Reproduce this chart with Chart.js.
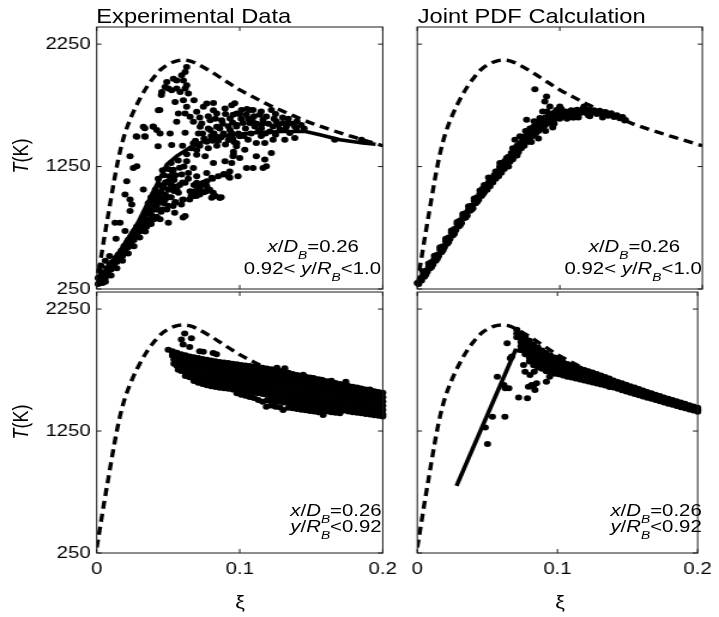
<!DOCTYPE html>
<html><head><meta charset="utf-8">
<script src="https://cdn.jsdelivr.net/npm/chart.js@4.4.1/dist/chart.umd.min.js"></script>
<style>
html,body{margin:0;padding:0;background:#fff;overflow:hidden;width:719px;height:617px;}
#stage{position:absolute;left:0;top:0;width:600px;height:617px;transform:scaleX(1.198333);transform-origin:0 0;font-family:'Liberation Sans',Arial,Helvetica,sans-serif;color:#000;}
#stage canvas{position:absolute;left:0;top:0;}
.t{position:absolute;white-space:nowrap;line-height:1;}
.sub{font-size:0.68em;position:relative;top:7px;font-style:italic;}
.title{font-size:19.8px;top:6.5px;}
.ylab{font-size:18px;transform:translate(-50%,-50%) rotate(-90deg);}
.xlab{font-size:18px;top:592.8px;transform:translateX(-50%);}
.ann{font-size:17px;text-align:right;}
</style></head><body>
<div id="stage">
  <canvas id="cTL" width="600" height="617"></canvas>
  <canvas id="cTR" width="600" height="617"></canvas>
  <canvas id="cBL" width="600" height="617"></canvas>
  <canvas id="cBR" width="600" height="617"></canvas>

  <div class="t title" style="left:80.3px;">Experimental Data</div>
  <div class="t title" style="left:348.6px;">Joint PDF Calculation</div>

  <div class="t ylab" style="left:17.4px;top:156px;"><i>T</i>(K)</div>
  <div class="t ylab" style="left:17.4px;top:422px;"><i>T</i>(K)</div>

  <div class="t xlab" style="left:200.3px;">ξ</div>
  <div class="t xlab" style="left:467.3px;">ξ</div>

  <div class="t ann" style="right:300.5px;top:237.9px;"><i>x</i>/<i>D</i><span class="sub">B</span>=0.26</div>
  <div class="t ann" style="right:282px;top:259.6px;">0.92&lt; <i>y</i>/<i>R</i><span class="sub">B</span>&lt;1.0</div>
  <div class="t ann" style="right:32.5px;top:237.9px;"><i>x</i>/<i>D</i><span class="sub">B</span>=0.26</div>
  <div class="t ann" style="right:14.4px;top:259.6px;">0.92&lt; <i>y</i>/<i>R</i><span class="sub">B</span>&lt;1.0</div>
  <div class="t ann" style="right:281.5px;top:501.5px;"><i>x</i>/<i>D</i><span class="sub">B</span>=0.26</div>
  <div class="t ann" style="right:281.5px;top:518.3px;"><i>y</i>/<i>R</i><span class="sub">B</span>&lt;0.92</div>
  <div class="t ann" style="right:14.4px;top:501.5px;"><i>x</i>/<i>D</i><span class="sub">B</span>=0.26</div>
  <div class="t ann" style="right:14.4px;top:518.3px;"><i>y</i>/<i>R</i><span class="sub">B</span>&lt;0.92</div>
</div>
<script>
// ---------------- data ----------------
const xTickVals = [0, 0.1, 0.2];
const xTickLabels = ['0', '0.1', '0.2'];
const yTickVals = [250, 1250, 2250];
const yTickLabels = ['250', '1250', '2250'];

// equilibrium temperature (dashed curve)
const eqXi = [0, 0.0025, 0.005, 0.0075, 0.01, 0.0125, 0.015, 0.0175, 0.02, 0.025, 0.03, 0.035, 0.04, 0.045, 0.05, 0.055, 0.061, 0.066, 0.07, 0.08, 0.09, 0.1, 0.11, 0.12, 0.135, 0.15, 0.165, 0.18, 0.2];
const eqT  = [295, 470, 650, 820, 990, 1155, 1305, 1430, 1530, 1680, 1800, 1900, 1980, 2045, 2085, 2110, 2120, 2110, 2090, 2025, 1950, 1876, 1815, 1755, 1678, 1605, 1545, 1490, 1420];

// mean (solid) lines
const tlMeanXi = [0, 0.016, 0.029, 0.049, 0.056, 0.064, 0.072, 0.086, 0.107, 0.13, 0.146, 0.156, 0.17, 0.186, 0.195];
const tlMeanT  = [290, 548, 795, 1266, 1335, 1395, 1443, 1496, 1524, 1537, 1537, 1510, 1469, 1442, 1432];
const brMeanXi = [0.028, 0.070, 0.074, 0.08, 0.09, 0.1, 0.12, 0.14, 0.16, 0.18, 0.2];
const brMeanT  = [800, 1912, 1905, 1880, 1830, 1772, 1690, 1620, 1550, 1485, 1420];

// scatter: experimental data, 0.92<y/RB<1.0
const tlPoints = [
[0.001,290],[0.002,320],[0.001,340],[0.003,360],[0.004,300],[0.002,400],[0.003,440],[0.005,380],[0.006,340],[0.006,480],[0.007,420],[0.008,390],[0.009,450],[0.009,520],[0.010,410],[0.011,470],[0.012,440],[0.013,500],[0.014,470],[0.015,530],[0.016,500],[0.017,560],[0.018,520],[0.019,600],[0.020,560],[0.021,630],[0.022,590],[0.023,660],[0.024,620],[0.025,700],[0.026,650],[0.027,730],[0.028,690],[0.029,760],[0.030,720],[0.031,800],[0.032,750],[0.033,830],[0.034,790],[0.035,870],[0.036,820],[0.037,900],[0.038,860],[0.039,940],[0.040,900],[0.041,980],[0.042,930],[0.043,1010],[0.044,960],[0.045,1040],[0.046,990],[0.047,1080],[0.048,1020],[0.050,1060],[0.049,1120],[0.052,1100],[0.051,1170],[0.054,1140],[0.053,1210],
[0.004,340],[0.006,370],[0.008,410],[0.010,440],[0.012,470],[0.014,510],[0.016,540],[0.018,570],[0.020,610],[0.022,650],[0.024,680],[0.026,720],[0.028,760],[0.030,790],[0.032,820],[0.034,860],[0.036,890],[0.038,930],[0.040,960],[0.042,1000],[0.044,1040],[0.046,1080],[0.048,1120],
[0.006,310],[0.010,360],[0.014,420],[0.018,480],[0.022,540],[0.026,600],[0.030,670],[0.034,720],[0.038,780],[0.042,840],[0.046,900],[0.050,1000],[0.054,1050],[0.058,1100],
[0.036,950],[0.04,1030],[0.044,1100],[0.047,1180],[0.05,1230],[0.052,1280],[0.055,1180],[0.058,1240],[0.043,1150],[0.046,1220],[0.038,1000],[0.041,1060],
[0.035,760],[0.040,820],[0.045,880],[0.050,930],[0.055,960],[0.060,980],[0.047,950],[0.052,1000],[0.056,1060],[0.060,1120],[0.064,1150],[0.068,1100],[0.071,1080],[0.075,1040],[0.079,1060],[0.083,1010],[0.087,1000],[0.066,1010],[0.069,1050],[0.073,1100],[0.077,1130],[0.081,1150],[0.085,1170],[0.089,1190],[0.093,1210],
[0.072,1022],[0.0767,1049],[0.0814,1036],[0.086,995],[0.0697,1009],[0.065,982],[0.0604,833],[0.0592,941],[0.0534,927],[0.0545,873],
[0.0536,1225],[0.0629,1293],[0.0676,1239],[0.0699,1347],[0.0758,1334],[0.0816,1280],[0.0897,1293],[0.0944,1280],[0.0956,1347],[0.0886,1185],[0.0921,1171],[0.0594,1185],[0.0641,1198],[0.0699,1171],[0.0769,1198],[0.0804,1158],[0.0618,1117],[0.0699,1117],[0.0746,1117],[0.0536,1090],[0.0501,1131],[0.0571,1036],[0.0653,1049],[0.0723,1063],[0.0769,1090],[0.0804,995],[0.0862,995],[0.0478,982],[0.0548,954],[0.0606,982],[0.0676,1009],[0.042,900],[0.049,900],[0.0443,819],[0.0501,792],[0.0618,846],
[0.0233,1334],[0.028,1253],[0.0256,1239],[0.021,1131],[0.0326,1063],[0.0198,1022],[0.0233,982],[0.0245,941],[0.0233,887],[0.0128,792],[0.0163,792],[0.0198,724],[0.0135,660],[0.0336,1564],[0.0394,1578],[0.0277,1497],[0.0336,1497],[0.0441,1713],[0.0452,1835],[0.0429,1415],
[0.0629,2063],[0.0618,2022],[0.0594,1995],[0.0606,1954],[0.0559,1954],[0.0536,1968],[0.049,1941],[0.0501,1887],[0.0524,1873],[0.0559,1887],[0.0618,1887],[0.0455,1860],[0.0478,1900],[0.0583,1860],[0.0629,1914],[0.0641,1846],[0.0548,1778],[0.0606,1792],[0.068,1792],[0.0629,1738],[0.0431,1710],[0.0571,1683],[0.0618,1683],[0.0653,1656],[0.0699,1697],[0.0746,1738],[0.0769,1765],[0.0816,1770],[0.0816,1710],[0.0839,1683],[0.0897,1724],[0.0944,1751],[0.0979,1683],[0.0559,1616],[0.0676,1616],[0.0734,1602],[0.0793,1629],[0.0874,1629],[0.0932,1643],[0.0326,1575],[0.0396,1575],[0.028,1494],[0.0338,1494],[0.042,1548],[0.0443,1521],[0.0513,1521],[0.0618,1526],[0.0723,1575],[0.0711,1521],[0.0793,1548],[0.0839,1575],[0.0886,1521],[0.0932,1548],[0.0524,1426],[0.0676,1440],[0.0769,1453],[0.0839,1494],[0.0921,1467],[0.0979,1440],[0.0699,1385],[0.0956,1372],
[0.072,1420],[0.075,1480],[0.078,1400],[0.081,1460],[0.084,1420],[0.087,1490],[0.09,1430],[0.093,1500],[0.096,1450],[0.099,1520],[0.066,1400],[0.069,1460],[0.063,1350],[0.06,1420],[0.057,1300],[0.061,1250],
[0.074,1520],[0.078,1560],[0.082,1520],[0.086,1560],[0.088,1600],[0.092,1580],[0.095,1610],[0.098,1590],[0.101,1640],[0.104,1560],[0.106,1640],[0.109,1620],[0.112,1600],[0.113,1540],[0.116,1600],[0.118,1520],[0.12,1600],[0.124,1640],[0.127,1590],[0.13,1650],[0.132,1560],[0.134,1640],[0.137,1600],[0.14,1620],[0.143,1590],[0.145,1560],[0.103,1500],[0.108,1520],[0.115,1500],[0.125,1510],[0.09,1680],[0.1,1680],[0.11,1660],[0.105,1720],[0.115,1700],[0.125,1680],[0.083,1640],[0.078,1660],[0.072,1650],[0.085,1460],[0.095,1480],[0.08,1500],
[0.0965,1768],[0.1012,1713],[0.0953,1673],[0.1047,1673],[0.1093,1713],[0.114,1673],[0.1186,1659],[0.1221,1713],[0.1256,1619],[0.1303,1605],[0.1338,1605],[0.1385,1578],[0.128,1551],[0.121,1537],[0.1151,1564],[0.1105,1578],[0.107,1605],[0.1023,1605],[0.0977,1578],[0.0942,1524],[0.1,1497],[0.1058,1470],[0.1116,1442],[0.1175,1442],[0.1233,1470],[0.1315,1470],[0.1385,1483],[0.0977,1415],[0.1035,1388],[0.0953,1334],[0.1,1320],[0.1116,1334],[0.1175,1307],[0.1221,1361],[0.1047,1239],[0.1093,1239],[0.1163,1239],[0.0988,1171],[0.093,1158],[0.1664,1469],[0.1851,1469],
[0.107,1713],[0.1163,1632],[0.1233,1578],[0.1326,1578],[0.135,1524],[0.1396,1564],[0.1186,1253]
];

// scatter: joint PDF calculation, 0.92<y/RB<1.0
const trPoints = [
[0,300],[0.001,290],[0.002,330],[0.003,320],[0.004,360],[0.005,350],[0.006,400],[0.007,390],[0.008,430],[0.009,420],[0.010,470],[0.011,450],[0.012,500],[0.013,480],[0.014,530],[0.015,520],[0.016,570],[0.017,550],[0.018,600],[0.019,590],[0.020,640],[0.021,620],[0.022,670],[0.023,660],[0.024,710],[0.025,690],[0.026,740],[0.027,730],[0.028,780],[0.029,760],[0.030,810],[0.031,790],[0.032,840],[0.033,830],[0.034,870],[0.035,850],[0.036,900],[0.037,890],[0.038,930],[0.039,910],[0.040,970],[0.041,950],[0.042,1000],[0.043,980],[0.044,1030],[0.045,1010],
[0.004,394],[0.008,458],[0.012,522],[0.016,592],[0.020,660],[0.024,728],[0.028,798],[0.032,862],[0.036,926],[0.040,990],[0.044,1054],
[0.006,366],[0.010,430],[0.014,498],[0.018,566],[0.022,634],[0.026,702],[0.030,770],[0.034,834],[0.038,898],[0.042,962],[0.046,1024],
[0.046,1070],[0.047,1040],[0.048,1090],[0.049,1060],[0.050,1120],[0.051,1090],[0.052,1150],[0.053,1120],[0.054,1180],[0.055,1150],[0.056,1210],[0.057,1170],[0.058,1240],[0.059,1200],[0.060,1270],[0.061,1230],[0.062,1300],[0.063,1260],[0.064,1330],[0.065,1290],[0.066,1360],[0.067,1310],[0.068,1390],[0.069,1340],[0.070,1420],[0.071,1370],[0.072,1440],[0.073,1400],[0.074,1470],[0.075,1420],
[0.047,1100],[0.050,1090],[0.053,1160],[0.056,1180],[0.059,1240],[0.062,1270],[0.065,1330],[0.068,1360],[0.071,1410],[0.074,1440],[0.077,1480],[0.080,1520],[0.083,1560],[0.086,1590],[0.089,1610],[0.092,1640],[0.095,1650],[0.098,1670],[0.082,1620],[0.084,1560],[0.088,1600],[0.091,1700],[0.094,1640],[0.096,1600],[0.1,1640],[0.079,1560],[0.076,1540],
[0.05,1160],[0.055,1210],[0.058,1280],[0.061,1290],[0.064,1250],[0.067,1400],[0.070,1340],[0.072,1497],[0.0685,1469],[0.0697,1388],[0.0627,1320],[0.058,1253],
[0.076,1500],[0.077,1450],[0.078,1530],[0.079,1480],[0.080,1560],[0.081,1500],[0.082,1580],[0.083,1520],[0.084,1600],[0.085,1540],[0.086,1620],[0.087,1560],[0.088,1640],[0.089,1580],[0.090,1650],[0.091,1600],[0.092,1670],[0.093,1610],[0.094,1680],[0.095,1620],[0.096,1690],[0.097,1640],[0.098,1700],[0.099,1650],[0.100,1690],[0.080,1450],[0.085,1480],[0.09,1540],[0.095,1570],[0.0767,1632],[0.086,1646],[0.0825,1881],[0.0907,1822],[0.0895,1781],[0.0977,1713],[0.1,1740],[0.093,1740],[0.088,1700],
[0.102,1660],[0.104,1700],[0.106,1670],[0.108,1710],[0.110,1680],[0.112,1715],[0.114,1685],[0.116,1720],[0.118,1690],[0.120,1715],[0.122,1685],[0.124,1710],[0.126,1680],[0.128,1705],[0.130,1675],[0.132,1695],[0.134,1665],[0.136,1685],[0.138,1655],[0.140,1670],[0.142,1645],[0.144,1655],[0.146,1630],[0.1455,1627],[0.101,1720],[0.105,1640],[0.109,1650],[0.113,1650],[0.117,1740],[0.121,1660],
[0.103,1690],[0.107,1690],[0.111,1700],[0.115,1700],[0.119,1705],[0.123,1700],[0.127,1695],[0.131,1690],[0.135,1675],[0.139,1665],[0.143,1650],[0.1,1660],[0.11,1650],[0.12,1670],[0.13,1650]
];

// scatter: experimental data, y/RB<0.92
const blPoints = [
[0.050,1916],[0.053,1889],[0.053,1905],[0.053,1868],[0.054,1836],[0.054,1802],
[0.056,1892],[0.056,1855],[0.057,1818],[0.056,1786],[0.057,1752],
[0.059,1880],[0.059,1846],[0.059,1808],[0.060,1776],[0.059,1742],[0.0592,1757],
[0.062,1872],[0.062,1836],[0.062,1800],[0.063,1764],[0.062,1730],[0.062,1702],
[0.065,1862],[0.065,1826],[0.065,1793],[0.066,1758],[0.065,1722],[0.065,1690],
[0.068,1856],[0.068,1820],[0.068,1784],[0.069,1751],[0.068,1716],[0.068,1681],[0.068,1660],
[0.071,1848],[0.071,1812],[0.071,1778],[0.072,1742],[0.071,1708],[0.071,1673],[0.071,1646],
[0.074,1840],[0.074,1806],[0.074,1770],[0.075,1735],[0.074,1700],[0.074,1666],[0.074,1636],
[0.077,1834],[0.077,1798],[0.077,1762],[0.078,1729],[0.077,1693],[0.077,1658],[0.077,1625],
[0.080,1828],[0.080,1793],[0.080,1759],[0.081,1723],[0.080,1688],[0.080,1652],[0.080,1618],
[0.083,1822],[0.083,1787],[0.083,1752],[0.084,1716],[0.083,1682],[0.083,1647],[0.083,1612],
[0.086,1817],[0.086,1782],[0.086,1747],[0.087,1712],[0.086,1677],[0.086,1642],[0.086,1605],
[0.089,1812],[0.089,1777],[0.089,1742],[0.090,1707],[0.089,1672],[0.089,1637],[0.089,1600],
[0.092,1807],[0.092,1772],[0.092,1737],[0.093,1702],[0.092,1667],[0.092,1632],[0.092,1597],
[0.095,1802],[0.095,1767],[0.095,1732],[0.096,1697],[0.095,1662],[0.095,1627],[0.095,1590],
[0.098,1797],[0.098,1762],[0.098,1727],[0.099,1692],[0.098,1657],[0.098,1622],[0.098,1585],[0.098,1560],
[0.101,1792],[0.101,1757],[0.101,1722],[0.102,1687],[0.101,1652],[0.101,1617],[0.101,1580],[0.101,1548],
[0.104,1788],[0.104,1753],[0.104,1718],[0.105,1683],[0.104,1648],[0.104,1613],[0.104,1576],[0.104,1540],
[0.107,1784],[0.107,1749],[0.107,1714],[0.108,1679],[0.107,1644],[0.107,1609],[0.107,1572],[0.107,1530],
[0.110,1779],[0.110,1744],[0.110,1709],[0.111,1674],[0.110,1639],[0.110,1604],[0.110,1567],[0.110,1520],
[0.113,1774],[0.113,1739],[0.113,1704],[0.114,1669],[0.113,1634],[0.113,1599],[0.113,1560],[0.113,1505],
[0.116,1768],[0.116,1733],[0.116,1698],[0.117,1663],[0.116,1628],[0.116,1593],[0.116,1553],[0.116,1490],
[0.119,1762],[0.119,1727],[0.119,1692],[0.120,1657],[0.119,1622],[0.119,1587],[0.119,1545],[0.1186,1450],[0.119,1500],
[0.122,1756],[0.122,1721],[0.122,1686],[0.123,1651],[0.122,1616],[0.122,1581],[0.122,1540],[0.122,1500],[0.122,1460],
[0.125,1750],[0.125,1715],[0.125,1680],[0.126,1645],[0.125,1610],[0.125,1575],[0.125,1535],[0.125,1495],[0.125,1450],
[0.128,1743],[0.128,1708],[0.128,1673],[0.129,1638],[0.128,1603],[0.128,1568],[0.128,1530],[0.128,1490],[0.128,1445],
[0.131,1735],[0.131,1700],[0.131,1665],[0.132,1630],[0.131,1595],[0.131,1560],[0.131,1525],[0.131,1485],[0.1303,1423],
[0.134,1727],[0.134,1692],[0.134,1657],[0.135,1622],[0.134,1587],[0.134,1552],[0.134,1517],[0.134,1480],[0.134,1440],
[0.137,1718],[0.137,1683],[0.137,1648],[0.138,1613],[0.137,1578],[0.137,1543],[0.137,1508],[0.137,1472],[0.137,1437],
[0.140,1710],[0.140,1675],[0.140,1640],[0.141,1605],[0.140,1570],[0.140,1535],[0.140,1500],[0.140,1465],[0.140,1430],
[0.143,1702],[0.143,1667],[0.143,1632],[0.144,1597],[0.143,1562],[0.143,1527],[0.143,1492],[0.143,1457],[0.143,1425],
[0.146,1695],[0.146,1660],[0.146,1625],[0.147,1590],[0.146,1555],[0.146,1520],[0.146,1485],[0.146,1450],[0.146,1420],
[0.149,1688],[0.149,1653],[0.149,1618],[0.150,1583],[0.149,1548],[0.149,1513],[0.149,1478],[0.149,1443],[0.149,1415],
[0.152,1681],[0.152,1646],[0.152,1611],[0.153,1576],[0.152,1541],[0.152,1506],[0.152,1471],[0.152,1436],[0.152,1410],
[0.155,1674],[0.155,1639],[0.155,1604],[0.156,1569],[0.155,1534],[0.155,1499],[0.155,1464],[0.155,1429],[0.155,1405],
[0.158,1666],[0.158,1631],[0.158,1596],[0.159,1561],[0.158,1526],[0.158,1491],[0.158,1456],[0.158,1421],[0.1583,1382],
[0.161,1658],[0.161,1623],[0.161,1588],[0.162,1553],[0.161,1518],[0.161,1483],[0.161,1448],[0.161,1413],
[0.164,1650],[0.164,1615],[0.164,1580],[0.165,1545],[0.164,1510],[0.164,1475],[0.164,1440],[0.164,1405],
[0.167,1643],[0.167,1608],[0.167,1573],[0.168,1538],[0.167,1503],[0.167,1468],[0.167,1433],[0.167,1400],
[0.170,1636],[0.170,1601],[0.170,1566],[0.171,1531],[0.170,1496],[0.170,1461],[0.170,1426],[0.170,1396],
[0.173,1628],[0.173,1593],[0.173,1558],[0.174,1523],[0.173,1488],[0.173,1453],[0.173,1418],
[0.176,1620],[0.176,1585],[0.176,1550],[0.177,1515],[0.176,1480],[0.176,1445],[0.176,1410],
[0.179,1613],[0.179,1578],[0.179,1543],[0.180,1508],[0.179,1473],[0.179,1438],[0.179,1405],
[0.182,1606],[0.182,1571],[0.182,1536],[0.183,1501],[0.182,1466],[0.182,1431],[0.182,1400],
[0.185,1598],[0.185,1563],[0.185,1528],[0.186,1493],[0.185,1458],[0.185,1423],[0.185,1395],
[0.188,1591],[0.188,1556],[0.188,1521],[0.189,1486],[0.188,1451],[0.188,1416],[0.188,1390],
[0.191,1584],[0.191,1549],[0.191,1514],[0.192,1479],[0.191,1444],[0.191,1409],[0.191,1385],
[0.194,1577],[0.194,1542],[0.194,1507],[0.195,1472],[0.194,1437],[0.194,1402],[0.194,1380],
[0.197,1570],[0.197,1535],[0.197,1500],[0.198,1465],[0.197,1430],[0.197,1395],[0.197,1375],
[0.200,1563],[0.200,1528],[0.200,1493],[0.200,1458],[0.200,1423],[0.200,1388],[0.200,1370],
[0.0615,2050],[0.0592,2000],[0.0662,2010],[0.0604,1960],[0.0650,1940],[0.0720,1905],[0.0745,1900],[0.0814,1889],[0.0837,1880],[0.126,1768],[0.1315,1765],
[0.1443,1712],[0.1513,1684],[0.1571,1671],[0.1641,1663],[0.1742,1655],[0.1828,1600],[0.191,1590]
];

// scatter: joint PDF calculation, y/RB<0.92
const brPoints = [
[0.071,2080],[0.071,2050],[0.071,2020],
[0.074,2050],[0.074,2015],[0.074,1980],[0.074,1945],[0.074,1915],
[0.077,2020],[0.077,1985],[0.077,1950],[0.077,1915],[0.077,1880],
[0.080,1990],[0.080,1955],[0.080,1920],[0.080,1885],[0.080,1850],[0.080,1820],
[0.083,1960],[0.083,1925],[0.083,1890],[0.083,1855],[0.083,1820],[0.083,1790],
[0.086,1935],[0.086,1900],[0.086,1865],[0.086,1830],[0.086,1795],[0.086,1770],
[0.089,1910],[0.089,1878],[0.089,1845],[0.089,1812],[0.089,1780],[0.089,1760],
[0.092,1890],[0.092,1858],[0.092,1826],[0.092,1794],[0.092,1762],[0.092,1740],
[0.095,1870],[0.095,1840],[0.095,1810],[0.095,1780],[0.095,1750],[0.095,1730],
[0.098,1852],[0.098,1822],[0.098,1792],[0.098,1762],[0.098,1732],[0.098,1720],
[0.101,1835],[0.101,1805],[0.101,1775],[0.101,1745],[0.101,1715],
[0.104,1815],[0.104,1787],[0.104,1759],[0.104,1731],[0.104,1705],
[0.107,1800],[0.107,1772],[0.107,1744],[0.107,1716],[0.107,1695],
[0.110,1787],[0.110,1760],[0.110,1733],[0.110,1706],[0.110,1688],
[0.113,1775],[0.113,1749],[0.113,1723],[0.113,1697],[0.113,1680],
[0.116,1762],[0.116,1737],[0.116,1712],[0.116,1688],[0.116,1672],
[0.119,1750],[0.119,1726],[0.119,1702],[0.119,1680],[0.119,1664],
[0.122,1740],[0.122,1716],[0.122,1692],[0.122,1670],[0.122,1656],
[0.125,1730],[0.125,1706],[0.125,1683],[0.125,1660],[0.125,1648],
[0.128,1718],[0.128,1695],[0.128,1672],[0.128,1650],[0.128,1640],
[0.131,1706],[0.131,1684],[0.131,1662],[0.131,1640],[0.131,1632],
[0.134,1694],[0.134,1673],[0.134,1652],[0.134,1631],[0.134,1624],
[0.137,1680],[0.137,1660],[0.137,1640],[0.137,1620],[0.137,1612],
[0.140,1665],[0.140,1645],[0.140,1626],[0.140,1606],
[0.143,1652],[0.143,1633],[0.143,1614],[0.143,1596],
[0.146,1641],[0.146,1622],[0.146,1603],[0.146,1585],
[0.149,1629],[0.149,1611],[0.149,1593],[0.149,1575],
[0.152,1618],[0.152,1600],[0.152,1582],[0.152,1564],
[0.155,1606],[0.155,1589],[0.155,1572],[0.155,1554],
[0.158,1594],[0.158,1577],[0.158,1560],[0.158,1544],
[0.161,1583],[0.161,1566],[0.161,1549],[0.161,1533],
[0.164,1571],[0.164,1555],[0.164,1539],[0.164,1523],
[0.167,1560],[0.167,1544],[0.167,1528],[0.167,1514],
[0.170,1548],[0.170,1533],[0.170,1518],[0.170,1504],
[0.173,1537],[0.173,1522],[0.173,1507],[0.173,1494],
[0.176,1526],[0.176,1511],[0.176,1497],[0.176,1484],
[0.179,1515],[0.179,1501],[0.179,1487],[0.179,1474],
[0.182,1504],[0.182,1490],[0.182,1477],[0.182,1465],
[0.185,1494],[0.185,1480],[0.185,1467],[0.185,1455],
[0.188,1484],[0.188,1470],[0.188,1457],[0.188,1445],
[0.191,1473],[0.191,1460],[0.191,1447],[0.191,1436],
[0.194,1462],[0.194,1450],[0.194,1438],[0.194,1427],
[0.197,1452],[0.197,1440],[0.197,1428],[0.197,1418],
[0.200,1440],[0.200,1428],[0.200,1416],[0.200,1408],
[0.0641,1970],[0.0664,1847],[0.0571,1696],[0.0618,1628],[0.0653,1600],[0.0536,1368],[0.0625,1368],[0.0485,1280],[0.0501,1143],[0.0723,1526],[0.0786,1518],[0.0758,1792],[0.0769,1737],[0.0804,1710],[0.0834,1737],[0.0921,1655],[0.0793,1614],[0.0828,1614],[0.0851,1641],[0.0839,1587],[0.0816,1628],[0.0944,1696],[0.0674,1861],[0.0627,1601]
];

// ---------------- rendering ----------------
const W = 600, H = 617;
const FONT = "'Liberation Sans', Arial, Helvetica, sans-serif";

const framePlugin = {
  id: 'frame',
  afterDraw(chart) {
    const {ctx, chartArea: a, scales: {x, y}} = chart;
    ctx.save();
    ctx.strokeStyle = '#1a1a1a';
    ctx.lineWidth = 1;
    ctx.strokeRect(a.left, a.top, a.right - a.left, a.bottom - a.top);
    ctx.beginPath();
    const tl = 4;
    xTickVals.forEach(v => {
      const px = x.getPixelForValue(v);
      ctx.moveTo(px, a.top); ctx.lineTo(px, a.top + tl);
      ctx.moveTo(px, a.bottom); ctx.lineTo(px, a.bottom - tl);
    });
    yTickVals.forEach(v => {
      const py = y.getPixelForValue(v);
      ctx.moveTo(a.left, py); ctx.lineTo(a.left + tl, py);
      ctx.moveTo(a.right, py); ctx.lineTo(a.right - tl, py);
    });
    ctx.stroke();
    ctx.restore();
  }
};

const zip = (xs, ys) => xs.map((v, i) => ({x: v, y: ys[i]}));
const pairs = p => p.map(q => ({x: q[0], y: q[1]}));

function makePanel(id, box, showY, showX, pts, mean) {
  const yW = showY ? 60 : 0;
  const xH = showX ? 40 : 0;
  const datasets = [];
  if (mean) {
    datasets.push({data: zip(mean[0], mean[1]), showLine: true, borderColor: '#000', borderWidth: 3.6,
      pointRadius: 0, fill: false, tension: 0});
  }
  datasets.push({data: pairs(pts), showLine: false, pointRadius: 3.0, pointBackgroundColor: '#000',
    pointBorderWidth: 0, backgroundColor: '#000', clip: false});
  datasets.push({data: zip(eqXi, eqT), showLine: true, borderColor: '#000', borderWidth: 3.4,
    borderDash: [8, 5], pointRadius: 0, fill: false, cubicInterpolationMode: 'monotone'});

  const tickFont = {family: FONT, size: 17};
  new Chart(document.getElementById(id), {
    type: 'scatter',
    data: {datasets},
    options: {
      responsive: false, animation: false, events: [],
      layout: {padding: {left: box.l - yW, right: W - box.r, top: box.t, bottom: H - box.b - xH}},
      plugins: {legend: {display: false}, tooltip: {enabled: false}, title: {display: false}},
      scales: {
        x: {type: 'linear', min: 0, max: 0.2,
          grid: {display: false, drawTicks: false}, border: {display: false},
          ticks: {display: showX, font: tickFont, color: '#000', padding: 6, autoSkip: false, maxRotation: 0,
            callback: (v, i) => xTickLabels[i]},
          afterBuildTicks: s => { s.ticks = xTickVals.map(v => ({value: v})); },
          afterFit: s => { s.height = xH; }
        },
        y: {type: 'linear', min: 250, max: 2390,
          grid: {display: false, drawTicks: false}, border: {display: false},
          ticks: {display: showY, font: tickFont, color: '#000', padding: 5, autoSkip: false,
            callback: (v, i) => yTickLabels[i]},
          afterBuildTicks: s => { s.ticks = yTickVals.map(v => ({value: v})); },
          afterFit: s => { s.width = yW; }
        }
      }
    },
    plugins: [framePlugin]
  });
}

makePanel('cTL', {l: 80.7, r: 319.4, t: 27, b: 289}, true, false, tlPoints, [tlMeanXi, tlMeanT]);
makePanel('cTR', {l: 348.2, r: 586.1, t: 27, b: 289}, false, false, trPoints, null);
makePanel('cBL', {l: 80.7, r: 319.4, t: 292, b: 553}, true, true, blPoints, null);
makePanel('cBR', {l: 348.2, r: 586.1, t: 292, b: 553}, false, true, brPoints, [brMeanXi, brMeanT]);
</script>
</body></html>
